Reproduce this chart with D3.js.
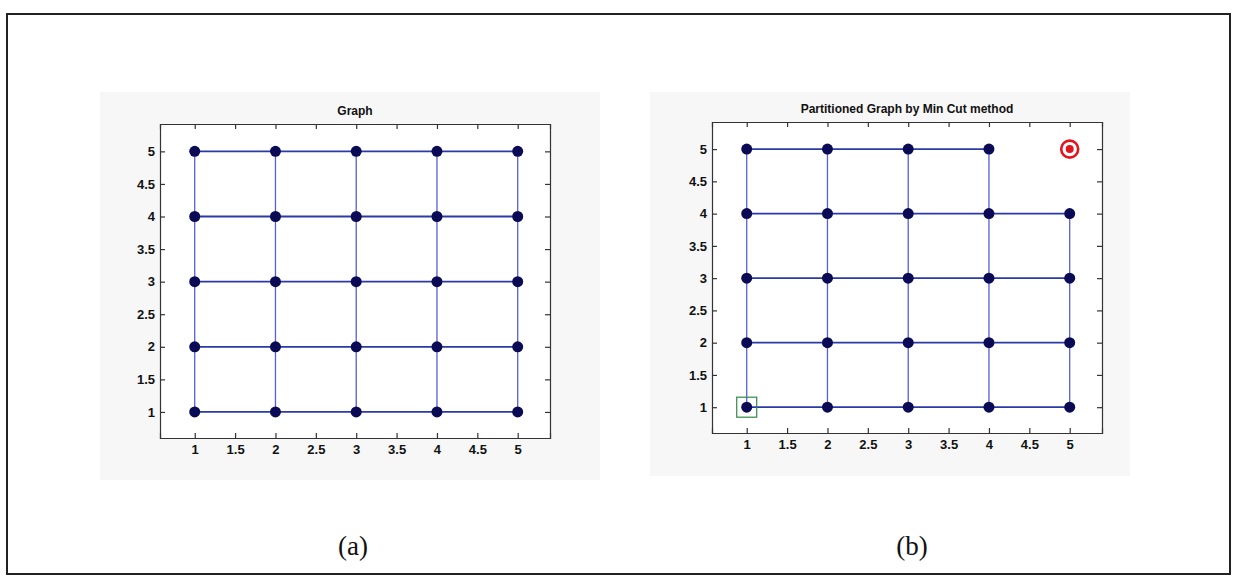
<!DOCTYPE html>
<html>
<head>
<meta charset="utf-8">
<script src="https://cdn.jsdelivr.net/npm/d3@7/dist/d3.min.js"></script>
<style>
  html, body { margin: 0; padding: 0; background: #fff; }
  svg { display: block; }
  .tick text { font-family: "Liberation Sans", Arial, sans-serif; font-size: 13px; font-weight: bold; fill: #111; }
</style>
</head>
<body>
<svg id="chart" width="1238" height="580"></svg>
<script>
// ---- data ----
const gridX = [1, 2, 3, 4, 5];
const gridY = [1, 2, 3, 4, 5];
const xTicks = [1, 1.5, 2, 2.5, 3, 3.5, 4, 4.5, 5];
const yTicks = [1, 1.5, 2, 2.5, 3, 3.5, 4, 4.5, 5];
const titles = ["Graph", "Partitioned Graph by Min Cut method"];
const captions = ["(a)", "(b)"];
// Partitioned graph: the sink node (5,5) is cut off
const sinkNode = [5, 5];
const sourceNode = [1, 1];

// build nodes/edges of 5x5 grid
const nodesFull = [];
gridY.forEach(y => gridX.forEach(x => nodesFull.push([x, y])));
const edgesFull = [];
gridY.forEach(y => gridX.forEach(x => {
  if (x < 5) edgesFull.push([[x, y], [x + 1, y], "h"]);
  if (y < 5) edgesFull.push([[x, y], [x, y + 1], "v"]);
}));
const isSink = p => p[0] === sinkNode[0] && p[1] === sinkNode[1];
const nodesCut = nodesFull.filter(p => !isSink(p));
const edgesCut = edgesFull.filter(e => !isSink(e[0]) && !isSink(e[1]));

const svg = d3.select("#chart");

// outer frame
svg.append("rect").attr("x", 7).attr("y", 14).attr("width", 1223).attr("height", 560)
  .attr("fill", "#fff").attr("stroke", "#222").attr("stroke-width", 2);

// faint scanned background regions
svg.append("rect").attr("x", 100).attr("y", 92).attr("width", 500).attr("height", 388).attr("fill", "#f7f7f7");
svg.append("rect").attr("x", 650).attr("y", 92).attr("width", 480).attr("height", 384).attr("fill", "#f7f7f7");

const panels = [
  { left: 160, top: 124, w: 390, h: 314, nodes: nodesFull, edges: edgesFull, title: titles[0], caption: captions[0], capX: 353, partition: false },
  { left: 712, top: 122, w: 390, h: 311, nodes: nodesCut, edges: edgesCut, title: titles[1], caption: captions[1], capX: 912, partition: true }
];

panels.forEach(p => {
  const g = svg.append("g").attr("transform", `translate(${p.left},${p.top})`);
  const x = d3.scaleLinear().domain([0.57, 5.4]).range([0, p.w]);
  const y = d3.scaleLinear().domain([0.6, 5.42]).range([p.h, 0]);

  g.append("rect").attr("width", p.w).attr("height", p.h).attr("fill", "#fff");

  // edges
  g.selectAll("line.edge").data(p.edges).join("line").attr("class", "edge")
    .attr("x1", d => x(d[0][0])).attr("y1", d => y(d[0][1]))
    .attr("x2", d => x(d[1][0])).attr("y2", d => y(d[1][1]))
    .attr("stroke", d => d[2] === "h" ? "#2b3aa6" : "#5560d8")
    .attr("stroke-width", d => d[2] === "h" ? 1.8 : 1.3);

  // nodes
  g.selectAll("circle.node").data(p.nodes).join("circle").attr("class", "node")
    .attr("cx", d => x(d[0])).attr("cy", d => y(d[1])).attr("r", 5.5)
    .attr("fill", "#0b0b55");

  if (p.partition) {
    // sink marker
    g.append("circle").attr("cx", x(sinkNode[0])).attr("cy", y(sinkNode[1])).attr("r", 8.5)
      .attr("fill", "#fff").attr("stroke", "#e4141e").attr("stroke-width", 2.6);
    g.append("circle").attr("cx", x(sinkNode[0])).attr("cy", y(sinkNode[1])).attr("r", 4)
      .attr("fill", "#e4141e");
    // source marker
    g.append("rect").attr("x", x(sourceNode[0]) - 10).attr("y", y(sourceNode[1]) - 10)
      .attr("width", 20).attr("height", 20).attr("fill", "none")
      .attr("stroke", "#2f8a45").attr("stroke-width", 1.2);
  }

  // axes (MATLAB style box, inward ticks)
  g.append("g").attr("transform", `translate(0,${p.h})`)
    .call(d3.axisBottom(x).tickValues(xTicks).tickSize(-5).tickPadding(7).tickFormat(d3.format("")));
  g.append("g")
    .call(d3.axisTop(x).tickValues(xTicks).tickSize(-5).tickFormat(""));
  g.append("g")
    .call(d3.axisLeft(y).tickValues(yTicks).tickSize(-5).tickPadding(5).tickFormat(d3.format("")));
  g.append("g").attr("transform", `translate(${p.w},0)`)
    .call(d3.axisRight(y).tickValues(yTicks).tickSize(-5).tickFormat(""));
  g.selectAll(".domain").attr("stroke", "#333").attr("stroke-width", 1.2);
  g.selectAll(".tick line").attr("stroke", "#333").attr("stroke-width", 1.2);

  // title
  svg.append("text").attr("x", p.left + p.w / 2).attr("y", p.top - 9)
    .attr("text-anchor", "middle")
    .style("font-family", "'Liberation Sans', Arial, sans-serif").style("font-size", "12px")
    .style("font-weight", "bold").attr("fill", "#111").text(p.title);

  // caption
  svg.append("text").attr("x", p.capX).attr("y", 555)
    .attr("text-anchor", "middle")
    .style("font-family", "'Liberation Serif', 'Times New Roman', serif").style("font-size", "27px")
    .attr("fill", "#111").text(p.caption);
});
</script>
</body>
</html>
